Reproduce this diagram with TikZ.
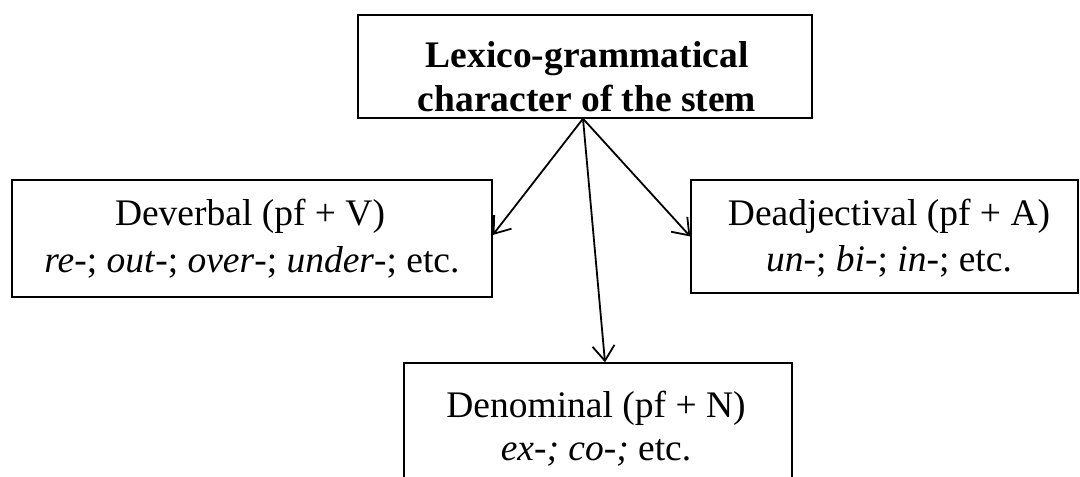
\documentclass[tikz,border=0pt]{standalone}
\usepackage{fontspec}
\setmainfont{Liberation Serif}
\usetikzlibrary{arrows.meta,calc}
\begin{document}
\begin{tikzpicture}[x=1pt,y=-1pt,
  box/.style={draw=black, line width=1.4pt, rectangle, inner sep=0pt},
  txt/.style={inner sep=0pt, anchor=base, font=\fontsize{37.5}{44}\selectfont},
  btxt/.style={inner sep=0pt, anchor=base, font=\fontsize{37.5}{44}\selectfont\bfseries},
  conn/.style={line width=1.8pt, -{Straight Barb[length=15pt,width=22pt,line width=1.8pt]}}]
\useasboundingbox (0,0) rectangle (1080,477);
% boxes
\node[box, minimum width=454pt, minimum height=103pt] (top) at (585,66.5) {};
\node[box, minimum width=480pt, minimum height=117pt] (left) at (252,238.5) {};
\node[box, minimum width=387pt, minimum height=113pt] (right) at (884.5,236.5) {};
\node[box, minimum width=388pt, minimum height=118pt] (bot) at (598,422) {};
% texts
\node[btxt] (t1) at (587,67) {Lexico-grammatical};
\node[btxt] (t2) at (587,111) {character of the stem};
\node[txt] (l1) at (250,225) {Deverbal (pf + V)};
\node[txt] (l2) at (252,272) {\textit{re}-; \textit{out}-; \textit{over}-; \textit{under}-; etc.};
\node[txt] (r1) at (889,225) {Deadjectival (pf + A)};
\node[txt] (r2) at (889,271) {\textit{un}-; \textit{bi}-; \textit{in}-; etc.};
\node[txt] (b1) at (596,417) {Denominal (pf + N)};
\node[txt] (b2) at (596,460) {\textit{ex-; co-;} etc.};
% connectors
\coordinate (apex) at ([xshift=-2pt]top.south);
\draw[conn] (apex) -- ([yshift=3.5pt]left.east);
\draw[conn] (apex) -- (right.west);
\draw[conn] (apex) -- ([xshift=7pt]bot.north);
\end{tikzpicture}
\end{document}
